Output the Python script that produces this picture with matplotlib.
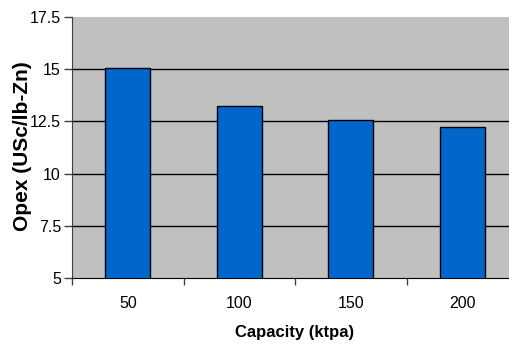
#Bar chart of opex by plant capacity
import matplotlib
matplotlib.use("Agg")
import matplotlib.pyplot as plt
from matplotlib.ticker import FixedLocator

capacity = ["50", "100", "150", "200"]
opex = [15.05, 13.24, 12.58, 12.24]
y_ticks = [5, 7.5, 10, 12.5, 15, 17.5]
y_tick_labels = ["5", "7.5", "10", "12.5", "15", "17.5"]

plt.rcParams["font.family"] = ["Liberation Sans", "DejaVu Sans"]

fig = plt.figure(figsize=(5.09, 3.53), dpi=100)
ax = fig.add_axes([72 / 509, 75 / 353, 446 / 509, 261 / 353])
ax.set_facecolor("#C0C0C0")

x = list(range(len(capacity)))

#Gridlines behind the bars
for y in y_ticks[1:-1]:
    ax.axhline(y, color="black", linewidth=1.0, zorder=1)

ax.bar(x, opex, width=0.40, bottom=0, color="#0066CC",
       edgecolor="black", linewidth=1.0, zorder=3)

ax.set_xlim(-0.5, len(capacity) - 0.5)
ax.set_ylim(5, 17.5)

ax.set_yticks(y_ticks)
ax.set_yticklabels(y_tick_labels, fontsize=11.5)
ax.set_xticks(x)
ax.set_xticklabels(capacity, fontsize=11.5)
ax.xaxis.set_minor_locator(FixedLocator([i - 0.5 for i in range(len(capacity) + 1)]))
ax.tick_params(axis="x", which="major", length=0, pad=13)
ax.tick_params(axis="x", which="minor", length=5, width=1, color="#404040")
ax.tick_params(axis="y", length=6, width=1, color="#404040", pad=2)

for side in ["top", "right"]:
    ax.spines[side].set_visible(False)
ax.spines["left"].set_color("#404040")
ax.spines["bottom"].set_color("black")

ax.set_xlabel("Capacity (ktpa)", fontsize=12, fontweight="bold", labelpad=10)
ax.set_ylabel("Opex (USc/lb-Zn)", fontsize=15, fontweight="bold",
              va="center", ha="center")
ax.yaxis.set_label_coords(-0.11, 0.506)

fig.savefig("out.png", dpi=100)
